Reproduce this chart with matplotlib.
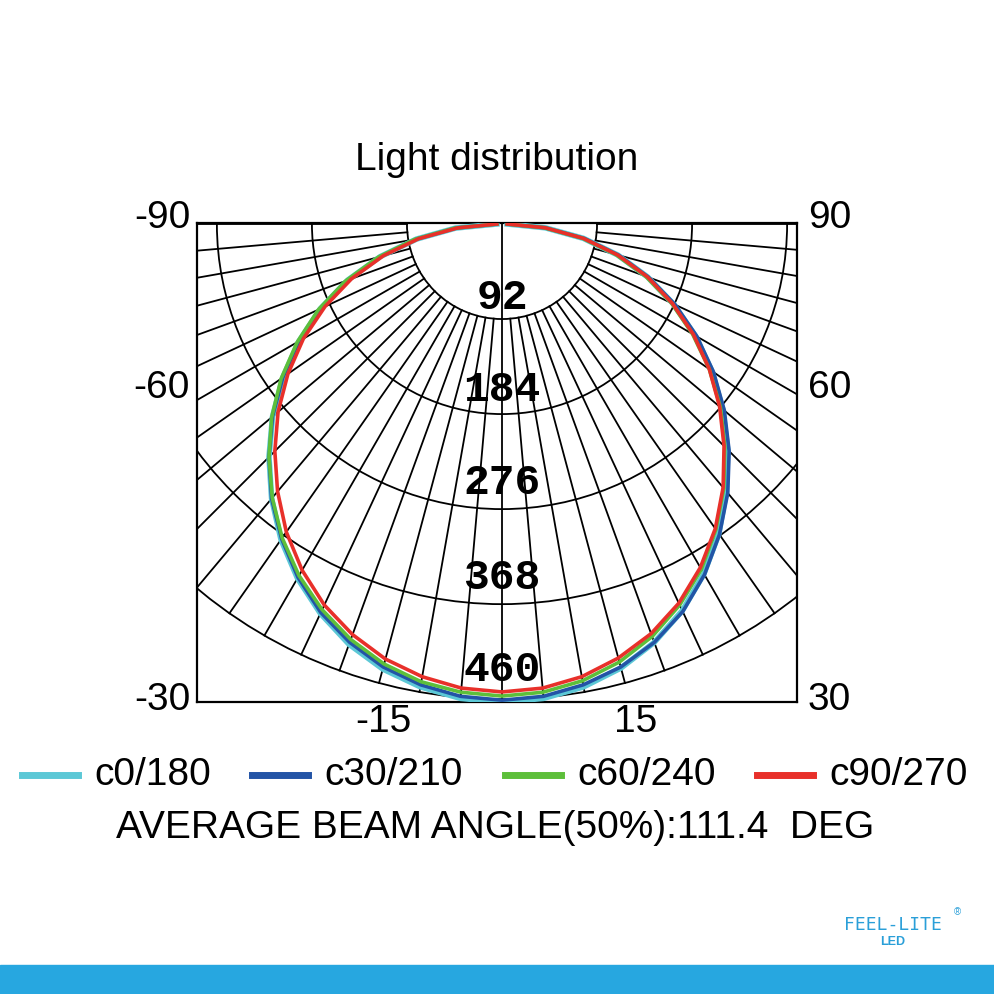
import numpy as np
import matplotlib
matplotlib.use("Agg")
import matplotlib.pyplot as plt
from matplotlib.patches import Circle, Rectangle

plt.rcParams['font.family'] = ['Liberation Sans', 'DejaVu Sans']

# ---- data (angles -90..90 step 5) ----
angles = list(range(-90, 91, 5))
c0_180 = [5, 45, 84, 122, 159, 194, 227, 259, 290, 319, 347, 373, 396, 416, 433, 446, 455, 461,
          463, 461, 455, 445, 431, 413, 391, 366, 338, 309, 279, 248, 216, 183, 150, 116, 80, 42, 5]
c30_210 = [5, 45, 84, 122, 159, 194, 227, 259, 290, 319, 347, 372, 395, 415, 431, 444, 453, 459,
           461, 459, 453, 444, 431, 414, 392, 367, 340, 311, 281, 250, 218, 185, 151, 117, 81, 42, 5]
c60_240 = [5, 46, 86, 124, 161, 196, 229, 261, 291, 319, 346, 371, 393, 412, 428, 441, 450, 455,
           457, 455, 449, 439, 425, 407, 386, 361, 334, 305, 276, 245, 213, 181, 148, 114, 79, 41, 5]
c90_270 = [5, 43, 82, 119, 155, 189, 222, 253, 283, 311, 338, 364, 387, 407, 423, 436, 445, 451,
           453, 451, 445, 435, 422, 405, 384, 360, 333, 304, 275, 245, 214, 182, 150, 116, 80, 42, 5]
series = [("c0/180", c0_180, "#5cc8d6", 4.0), ("c30/210", c30_210, "#2354a6", 2.6),
          ("c60/240", c60_240, "#5dbf3a", 2.6), ("c90/270", c90_270, "#e8302a", 2.6)]
ring_values = [92, 184, 276, 368, 460]
left_labels = ["-90", "-60", "-30"]
right_labels = ["90", "60", "30"]
bottom_labels = ["-15", "15"]
scale = 1.033  # px per unit

fig = plt.figure(figsize=(9.94, 9.94), dpi=100)
W = H = 994.0
ax = fig.add_axes([197 / W, (994 - 702) / H, 600 / W, 479 / H])
ax.set_xlim(-305, 295)
ax.set_ylim(-478, 1)
ax.set_xticks([]); ax.set_yticks([])
for s in ax.spines.values():
    s.set_linewidth(1.6)

for v in ring_values:
    ax.add_patch(Circle((0, 0), v * scale, fill=False, lw=1.3, ec="black"))
r0 = ring_values[0] * scale
r1 = ring_values[-1] * scale
for d in np.arange(-90, 91, 5):
    t = np.radians(d)
    a = 0 if d == 0 else r0
    b = r1 if abs(d) < 50 else 900
    ax.plot([a * np.sin(t), b * np.sin(t)], [-a * np.cos(t), -b * np.cos(t)],
            color="black", lw=1.3)

th = np.radians(angles)
for name, vals, col, lw in series:
    v = np.array(vals) * scale
    ax.plot(v * np.sin(th), -v * np.cos(th), color=col, lw=lw, label=name, zorder=3,
            solid_joinstyle="round")

label_y = [74, 166, 259, 354, 446]
for val, yy in zip(ring_values, label_y):
    ax.text(0, -yy, str(val), ha="center", va="center", fontsize=31, fontweight="bold",
            family="Liberation Mono", zorder=5)

fs = 28
fig.text(497 / W, 1 - 160 / H, "Light distribution", ha="center", va="center", fontsize=fs)
for lab, y in zip(left_labels, [218, 388, 700]):
    fig.text(190 / W, 1 - y / H, lab, ha="right", va="center", fontsize=fs)
for lab, y in zip(right_labels, [218, 388, 700]):
    fig.text(808 / W, 1 - y / H, lab, ha="left", va="center", fontsize=fs)
for lab, x in zip(bottom_labels, [383, 636]):
    fig.text(x / W, 1 - 722 / H, lab, ha="center", va="center", fontsize=fs)

lx = [22, 252, 505, 757]
for (name, vals, col, lw), x in zip(series, lx):
    fig.add_artist(plt.Line2D([x / W, (x + 56) / W], [1 - 775 / H] * 2, color=col, lw=5,
                              transform=fig.transFigure))
    fig.text((x + 72) / W, 1 - 775 / H, name, ha="left", va="center", fontsize=fs)
fig.text(495 / W, 1 - 828 / H, "AVERAGE BEAM ANGLE(50%):111.4  DEG", ha="center",
         va="center", fontsize=fs)

fig.text(893 / W, 1 - 925 / H, "FEEL-LITE", ha="center", va="center", fontsize=13,
         color="#2a9fd8", family="DejaVu Sans Mono")
fig.text(893 / W, 1 - 942 / H, "LED", ha="center", va="center", fontsize=9,
         color="#2a9fd8", fontweight="bold")
fig.text(957 / W, 1 - 912 / H, "®", ha="center", va="center", fontsize=7, color="#2a9fd8")
fig.add_artist(Rectangle((0, 0), 1, 29 / H, transform=fig.transFigure, color="#27a7e0"))

fig.savefig("out.png", dpi=100)
